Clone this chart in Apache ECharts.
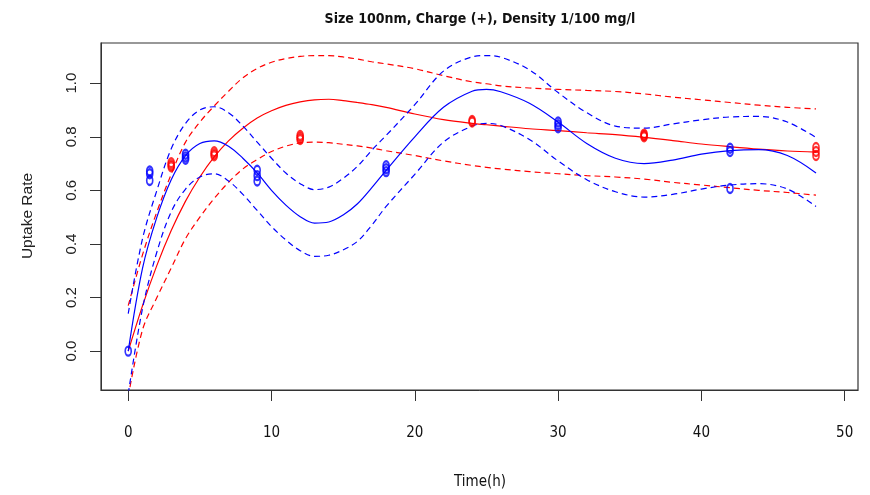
<!DOCTYPE html>
<html>
<head>
<meta charset="utf-8">
<script src="https://cdn.jsdelivr.net/npm/echarts@6/dist/echarts.min.js"></script>
<style>html,body{margin:0;padding:0;background:#fff}#c{width:870px;height:495px}</style>
</head>
<body>
<div id="c"></div>
<script>
// ---- data ----
const chartTitle = 'Size 100nm, Charge (+), Density 1/100 mg/l';
const xName = 'Time(h)';
const yName = 'Uptake Rate';
const xTickValues = [0, 10, 20, 30, 40, 50];
const yTickValues = [0, 0.2, 0.4, 0.6, 0.8, 1.0];

// observed points (replicates)
const blueTimes = [0, 1.5, 1.5, 1.5, 4, 4, 4, 9, 9, 9, 18, 18, 18, 30, 30, 30, 42, 42, 42];
const blueRates = [0.0, 0.672, 0.662, 0.637, 0.735, 0.725, 0.716, 0.675, 0.655, 0.635, 0.692, 0.681, 0.67, 0.855, 0.845, 0.834, 0.757, 0.745, 0.607];
const redTimes = [3, 3, 3, 6, 6, 6, 12, 12, 12, 24, 24, 36, 36, 36, 48, 48, 48];
const redRates = [0.703, 0.695, 0.688, 0.744, 0.736, 0.729, 0.805, 0.797, 0.79, 0.861, 0.855, 0.81, 0.805, 0.80, 0.76, 0.745, 0.73];

// fitted curves and confidence bands, sampled at curveX
const curveX = [0,1,2,3,4,5,6,7,8,9,10,11,12,13,14,15,16,17,18,20,22,24,25,26,28,30,32,34,36,38,40,42,44,46,48];
const blueFit = [0.00,0.31,0.50,0.64,0.73,0.775,0.785,0.765,0.72,0.665,0.60,0.545,0.502,0.478,0.482,0.508,0.55,0.61,0.675,0.80,0.91,0.97,0.977,0.968,0.925,0.855,0.775,0.72,0.70,0.713,0.735,0.748,0.752,0.73,0.665];
const blueUpper = [0.14,0.42,0.60,0.755,0.85,0.90,0.912,0.89,0.84,0.78,0.72,0.665,0.625,0.603,0.612,0.645,0.69,0.75,0.805,0.92,1.045,1.098,1.103,1.097,1.05,0.965,0.89,0.84,0.832,0.848,0.863,0.874,0.876,0.855,0.797];
const blueLower = [-0.16,0.16,0.37,0.52,0.605,0.65,0.662,0.635,0.585,0.525,0.465,0.415,0.375,0.354,0.358,0.378,0.41,0.47,0.54,0.66,0.78,0.84,0.85,0.842,0.79,0.71,0.64,0.595,0.575,0.585,0.605,0.62,0.625,0.605,0.54];
const redFit = [0.0,0.17,0.32,0.45,0.56,0.65,0.725,0.785,0.832,0.87,0.897,0.917,0.93,0.938,0.94,0.935,0.928,0.92,0.91,0.885,0.864,0.85,0.845,0.84,0.83,0.823,0.815,0.808,0.798,0.786,0.773,0.763,0.754,0.747,0.743];
const redUpper = [0.17,0.36,0.52,0.66,0.78,0.855,0.915,0.97,1.02,1.055,1.078,1.092,1.10,1.103,1.103,1.098,1.09,1.08,1.072,1.054,1.028,1.005,0.998,0.99,0.982,0.977,0.973,0.969,0.96,0.948,0.938,0.928,0.918,0.91,0.904];
const redLower = [-0.17,0.08,0.2,0.31,0.42,0.50,0.57,0.63,0.68,0.715,0.745,0.765,0.777,0.78,0.778,0.772,0.766,0.758,0.748,0.73,0.71,0.693,0.686,0.68,0.67,0.662,0.655,0.65,0.642,0.63,0.62,0.61,0.60,0.592,0.582];

// ---- chart ----
const BLUE = '#0000ff', RED = '#ff0000';
const narrow = "'Liberation Sans Narrow','Arial Narrow','DejaVu Sans Condensed','Liberation Sans',sans-serif";
const regular = "'Liberation Sans',Arial,sans-serif";
const pair = (xs, ys) => xs.map((x, i) => [x, ys[i]]);

function lineSeries(ys, color, dashed) {
  return {
    type: 'line', data: pair(curveX, ys), smooth: 0.35, showSymbol: false, symbol: 'none',
    clip: true, silent: true, z: 2,
    lineStyle: { color: color, width: 1.2, type: dashed ? [6, 4] : 'solid' }
  };
}
function pointSeries(xs, ys, color) {
  return {
    type: 'scatter', data: pair(xs, ys), symbol: 'circle', symbolSize: [6, 9], z: 3,
    itemStyle: { color: 'rgba(0,0,0,0)', borderColor: color, borderWidth: 2 }
  };
}

const chart = echarts.init(document.getElementById('c'), null, { renderer: 'canvas' });
chart.setOption({
  animation: false,
  backgroundColor: '#fff',
  grid: { left: 101, top: 43, width: 757, height: 347, show: true, borderColor: '#333', borderWidth: 1.2 },
  xAxis: {
    type: 'value', min: -1.9, max: 50.93,
    splitLine: { show: false },
    axisLine: { show: true, onZero: false, lineStyle: { color: '#333', width: 1 } },
    axisTick: { show: true, length: 11, lineStyle: { color: '#333' }, customValues: xTickValues },
    axisLabel: { customValues: xTickValues, margin: 36, fontSize: 15, color: '#111', fontFamily: narrow }
  },
  yAxis: {
    type: 'value', min: -0.145, max: 1.15,
    splitLine: { show: false },
    axisLine: { show: true, onZero: false, lineStyle: { color: '#333', width: 1 } },
    axisTick: { show: true, length: 11, lineStyle: { color: '#333' }, customValues: yTickValues },
    axisLabel: { customValues: yTickValues, rotate: 90, margin: 22, fontSize: 15, color: '#222', fontFamily: regular,
      formatter: v => v.toFixed(1) }
  },
  graphic: [
    { type: 'text', position: [480, 19], style: { text: chartTitle, font: "bold 14px " + narrow, fill: '#111', textAlign: 'center', textVerticalAlign: 'middle' } },
    { type: 'text', position: [480, 482], style: { text: xName, font: "15px " + narrow, fill: '#111', textAlign: 'center', textVerticalAlign: 'middle' } },
    { type: 'text', position: [28, 216], rotation: Math.PI / 2, style: { text: yName, font: "15.5px " + regular, fill: '#222', textAlign: 'center', textVerticalAlign: 'middle' } }
  ],
  series: [
    lineSeries(redUpper, RED, true),
    lineSeries(redLower, RED, true),
    lineSeries(redFit, RED, false),
    lineSeries(blueUpper, BLUE, true),
    lineSeries(blueLower, BLUE, true),
    lineSeries(blueFit, BLUE, false),
    pointSeries(redTimes, redRates, RED),
    pointSeries(blueTimes, blueRates, BLUE)
  ]
});
</script>
</body>
</html>
